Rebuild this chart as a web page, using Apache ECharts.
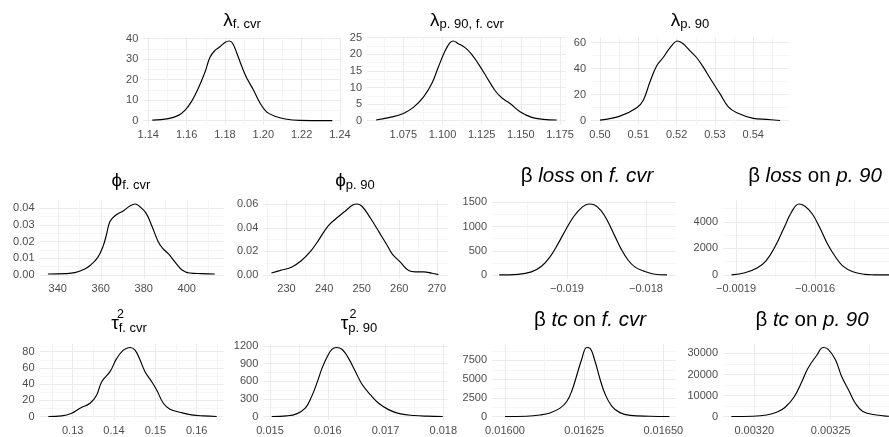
<!DOCTYPE html>
<html><head><meta charset="utf-8">
<script src="https://cdn.jsdelivr.net/npm/echarts@6/dist/echarts.min.js"></script>
<style>html,body{margin:0;padding:0;background:#fff}#c{width:889px;height:437px}</style>
</head><body><div id="c"></div>
<script>
// ---------- data (density curves) ----------
const lamFcvrX = [1.1421,1.1504,1.1557,1.1591,1.1626,1.1661,1.1696,1.1722,1.1748,1.1774,1.18,1.1823,1.184,1.1861,1.1887,1.1913,1.1948,1.1983,1.2017,1.2061,1.2122,1.2191,1.2278,1.236];
const lamFcvrY = [0.3,1.0,2.6,5.0,9.4,15.8,23.7,30.9,34.2,36.0,38.1,38.8,37.7,33.1,26.6,20.9,15.1,8.6,4.3,2.2,0.7,0.15,0.05,0.02];

const lamBothX = [1.0576,1.0665,1.075,1.0814,1.0878,1.0931,1.0973,1.1016,1.1048,1.1069,1.1101,1.1144,1.1186,1.1229,1.1282,1.1335,1.1378,1.1431,1.1495,1.157,1.1644,1.1729];
const lamBothY = [0.2,1.0,2.2,4.0,7.1,11.1,16.1,21.0,23.5,24.0,23.2,22.0,20.0,17.1,13.1,9.1,6.9,5.2,2.7,1.0,0.4,0.2];

const lamP90X = [0.5,0.5052,0.5096,0.5113,0.513,0.5148,0.5165,0.5183,0.5203,0.5217,0.5235,0.5252,0.527,0.5291,0.5313,0.5335,0.5357,0.54,0.5435,0.547];
const lamP90Y = [0.5,3.5,10,15.7,29.6,42.3,48.6,56.2,61.3,59.2,53.7,48.6,41,30.9,20.8,10.6,6.1,1.8,1.0,0.2];

const phiFcvrX = [335.4,343.5,347.9,352.3,355.3,358.6,361.0,362.6,364.2,366.6,370.6,373.7,376.0,378.2,381.1,383.9,386.7,388.8,391.5,395.0,397.8,401.3,407.0,413];
const phiFcvrY = [0.0006,0.0008,0.0014,0.0034,0.006,0.0106,0.017,0.024,0.032,0.0356,0.0386,0.0416,0.0426,0.041,0.037,0.029,0.02,0.016,0.0126,0.007,0.003,0.0012,0.0008,0.0006];

const phiP90X = [226.0,228.2,231.3,234.0,236.6,238.8,241.0,243.2,245.4,247.6,248.9,250.2,252.4,254.6,256.8,258.1,260.3,262.5,264.3,266.5,268.7,270.4];
const phiP90Y = [0.0017,0.0037,0.0066,0.0123,0.0209,0.0309,0.0414,0.048,0.0537,0.0594,0.0603,0.058,0.048,0.0366,0.0251,0.018,0.0109,0.0037,0.0026,0.0026,0.0014,0.0003];

const lossFcvrX = [-0.019858,-0.019622,-0.019451,-0.019322,-0.019215,-0.019107,-0.019021,-0.018914,-0.018807,-0.018721,-0.018657,-0.018571,-0.018485,-0.0184,-0.018313,-0.018227,-0.018142,-0.018034,-0.017906,-0.017734];
const lossFcvrY = [1,13,64,180,373,663,920,1210,1403,1467,1454,1338,1113,824,534,309,167,84,19,1];

const lossP90X = [-0.001917,-0.001866,-0.00182,-0.001786,-0.001752,-0.001718,-0.00169,-0.001661,-0.001638,-0.00161,-0.001581,-0.001553,-0.001524,-0.001496,-0.001456,-0.00141,-0.001376,-0.00133,-0.001283];
const lossP90Y = [2,165,518,1059,2118,3529,4706,5341,5176,4588,3529,2353,1412,706,235,47,10,2,0];

const tauFcvrX = [0.12411,0.12734,0.12976,0.13177,0.13419,0.13581,0.13702,0.13903,0.14065,0.14226,0.14387,0.14508,0.1463,0.1475,0.14911,0.15032,0.15194,0.15355,0.15597,0.15879,0.16161,0.16484];
const tauFcvrY = [0.1,0.8,4.1,10.3,16.4,26.7,43,55.4,71.8,82,85.3,82,69.7,55.4,43,32.8,16.4,9,5.3,2,0.8,0.1];

const tauP90X = [0.01503,0.01529,0.01546,0.01561,0.01572,0.01581,0.0159,0.01599,0.01607,0.01615,0.01625,0.01636,0.01648,0.01659,0.01674,0.01688,0.01706,0.01726,0.01749,0.01772,0.01799];
const tauP90Y = [1,11,45,141,338,563,817,1014,1138,1172,1138,986,761,552,366,225,113,45,17,6,1];

const tcFcvrX = [0.016,0.016068,0.016111,0.016142,0.016174,0.016195,0.016211,0.016226,0.016242,0.016258,0.016268,0.016284,0.0163,0.016316,0.016337,0.016363,0.016395,0.016458,0.016519];
const tcFcvrY = [5,40,200,480,1124,2006,3411,5417,7624,9229,9149,7424,5016,3010,1404,522,160,40,5];

const tcP90X = [0.003185,0.003199,0.003208,0.003215,0.00322,0.003226,0.003231,0.003235,0.003241,0.003245,0.003248,0.003253,0.003257,0.003262,0.003266,0.003271,0.00328,0.003288,0.003294];
const tcP90Y = [10,143,714,2143,4286,9286,16429,22857,29286,32857,32143,27143,19286,12143,6429,2429,714,143,10];

// ---------- tick labels (major) and minor grid positions ----------
const lamFcvrXTicks = [1.14,1.16,1.18,1.20,1.22,1.24], lamFcvrXMinor = [1.15,1.17,1.19,1.21,1.23];
const lamFcvrYTicks = [0,10,20,30,40], lamFcvrYMinor = [5,15,25,35];
const lamBothXTicks = [1.075,1.1,1.125,1.15,1.175], lamBothXMinor = [1.0625,1.0875,1.1125,1.1375,1.1625];
const lamBothYTicks = [0,5,10,15,20,25], lamBothYMinor = [2.5,7.5,12.5,17.5,22.5];
const lamP90XTicks = [0.50,0.51,0.52,0.53,0.54], lamP90XMinor = [0.505,0.515,0.525,0.535,0.545];
const lamP90YTicks = [0,20,40,60], lamP90YMinor = [10,30,50];
const phiFcvrXTicks = [340,360,380,400], phiFcvrXMinor = [350,370,390,410];
const phiFcvrYTicks = [0,0.01,0.02,0.03,0.04], phiFcvrYMinor = [0.005,0.015,0.025,0.035];
const phiP90XTicks = [230,240,250,260,270], phiP90XMinor = [225,235,245,255,265];
const phiP90YTicks = [0,0.02,0.04,0.06], phiP90YMinor = [0.01,0.03,0.05];
const lossFcvrXTicks = [-0.019,-0.018], lossFcvrXMinor = [-0.0195,-0.0185];
const lossFcvrYTicks = [0,500,1000,1500], lossFcvrYMinor = [250,750,1250];
const lossP90XTicks = [-0.0019,-0.0016], lossP90XMinor = [-0.00175,-0.00145];
const lossP90YTicks = [0,2000,4000], lossP90YMinor = [1000,3000,5000];
const tauFcvrXTicks = [0.13,0.14,0.15,0.16], tauFcvrXMinor = [0.125,0.135,0.145,0.155,0.165];
const tauFcvrYTicks = [0,20,40,60,80], tauFcvrYMinor = [10,30,50,70];
const tauP90XTicks = [0.015,0.016,0.017,0.018], tauP90XMinor = [0.0155,0.0165,0.0175];
const tauP90YTicks = [0,300,600,900,1200], tauP90YMinor = [150,450,750,1050];
const tcFcvrXTicks = [0.016,0.01625,0.0165], tcFcvrXMinor = [0.016125,0.016375];
const tcFcvrYTicks = [0,2500,5000,7500], tcFcvrYMinor = [1250,3750,6250,8750];
const tcP90XTicks = [0.0032,0.00325], tcP90XMinor = [0.003225,0.003275];
const tcP90YTicks = [0,10000,20000,30000], tcP90YMinor = [5000,15000,25000];

// ---------- panels ----------
const panels = [
  {x: lamFcvrX, y: lamFcvrY, xt: lamFcvrXTicks, xm: lamFcvrXMinor, yt: lamFcvrYTicks, ym: lamFcvrYMinor, xd: 2, yd: 0},
  {x: lamBothX, y: lamBothY, xt: lamBothXTicks, xm: lamBothXMinor, yt: lamBothYTicks, ym: lamBothYMinor, xd: 3, yd: 0},
  {x: lamP90X, y: lamP90Y, xt: lamP90XTicks, xm: lamP90XMinor, yt: lamP90YTicks, ym: lamP90YMinor, xd: 2, yd: 0},
  {x: phiFcvrX, y: phiFcvrY, xt: phiFcvrXTicks, xm: phiFcvrXMinor, yt: phiFcvrYTicks, ym: phiFcvrYMinor, xd: 0, yd: 2},
  {x: phiP90X, y: phiP90Y, xt: phiP90XTicks, xm: phiP90XMinor, yt: phiP90YTicks, ym: phiP90YMinor, xd: 0, yd: 2},
  {x: lossFcvrX, y: lossFcvrY, xt: lossFcvrXTicks, xm: lossFcvrXMinor, yt: lossFcvrYTicks, ym: lossFcvrYMinor, xd: 3, yd: 0},
  {x: lossP90X, y: lossP90Y, xt: lossP90XTicks, xm: lossP90XMinor, yt: lossP90YTicks, ym: lossP90YMinor, xd: 4, yd: 0},
  {x: tauFcvrX, y: tauFcvrY, xt: tauFcvrXTicks, xm: tauFcvrXMinor, yt: tauFcvrYTicks, ym: tauFcvrYMinor, xd: 2, yd: 0},
  {x: tauP90X, y: tauP90Y, xt: tauP90XTicks, xm: tauP90XMinor, yt: tauP90YTicks, ym: tauP90YMinor, xd: 3, yd: 0},
  {x: tcFcvrX, y: tcFcvrY, xt: tcFcvrXTicks, xm: tcFcvrXMinor, yt: tcFcvrYTicks, ym: tcFcvrYMinor, xd: 5, yd: 0},
  {x: tcP90X, y: tcP90Y, xt: tcP90XTicks, xm: tcP90XMinor, yt: tcP90YTicks, ym: tcP90YMinor, xd: 5, yd: 0}
];

// ---------- layout (pixels) and axis limits ----------
const R1 = {top: 37, height: 87.7}, R2 = {top: 200.5, height: 78}, R3 = {top: 344, height: 76};
const C = [39.5, 263.3, 492, 723], CW = 184;
const layout = [
  {left: 143.3, width: 198, row: R1, xmin: 1.1374, xmax: 1.2407},
  {left: 367, width: 198.8, row: R1, xmin: 1.0518, xmax: 1.1787},
  {left: 591, width: 198.1, row: R1, xmin: 0.49765, xmax: 0.54935},
  {left: C[0], width: CW, row: R2, xmin: 331.49, xmax: 417.07},
  {left: C[1], width: CW, row: R2, xmin: 223.83, xmax: 272.77},
  {left: C[2], width: CW, row: R2, xmin: -0.019949, xmax: -0.017620},
  {left: C[3], width: CW, row: R2, xmin: -0.0019494, xmax: -0.0012506},
  {left: C[0], width: CW, row: R3, xmin: 0.121967, xmax: 0.166487},
  {left: C[1], width: CW, row: R3, xmin: 0.014884, xmax: 0.018069},
  {left: C[2], width: CW, row: R3, xmin: 0.015959, xmax: 0.016540},
  {left: C[3], width: CW, row: R3, xmin: 0.0031795, xmax: 0.0032999}
];

const FONT = 'Liberation Sans';
const LBL = 11;
const fmt = d => v => { let s = Number(v).toFixed(d); if (s[0] === '-') s = '\u2212' + s.slice(1); return s; };

const grid = [], xAxis = [], yAxis = [], series = [];
panels.forEach((p, i) => {
  const L = layout[i];
  const M = Math.max.apply(null, p.y);
  grid.push({left: L.left, top: L.row.top, width: L.width, height: L.row.height, containLabel: false, outerBoundsMode: 'none'});
  const base = {gridIndex: i, type: 'value', axisLine: {show: false}, scale: true};
  xAxis.push(Object.assign({}, base, {
    min: L.xmin, max: L.xmax,
    axisTick: {show: false, customValues: p.xt},
    axisLabel: {customValues: p.xt, formatter: fmt(p.xd), fontSize: LBL, color: '#4D4D4D', margin: 5, fontFamily: FONT},
    splitLine: {show: true, lineStyle: {color: '#EBEBEB', width: 1}}
  }));
  xAxis.push(Object.assign({}, base, {
    min: L.xmin, max: L.xmax,
    axisTick: {show: false, customValues: p.xm},
    axisLabel: {show: false, customValues: p.xm},
    splitLine: {show: true, lineStyle: {color: '#F2F2F2', width: 0.8}}
  }));
  yAxis.push(Object.assign({}, base, {
    min: -0.05 * M, max: 1.05 * M,
    axisTick: {show: false, customValues: p.yt},
    axisLabel: {customValues: p.yt, formatter: fmt(p.yd), fontSize: LBL, color: '#4D4D4D', margin: 5, fontFamily: FONT},
    splitLine: {show: true, lineStyle: {color: '#EBEBEB', width: 1}}
  }));
  yAxis.push(Object.assign({}, base, {
    min: -0.05 * M, max: 1.05 * M,
    axisTick: {show: false, customValues: p.ym},
    axisLabel: {show: false, customValues: p.ym},
    splitLine: {show: true, lineStyle: {color: '#F2F2F2', width: 0.8}}
  }));
  series.push({
    type: 'line', xAxisIndex: 2 * i, yAxisIndex: 2 * i,
    data: p.x.map((v, k) => [v, p.y[k]]),
    smooth: 0.4, showSymbol: false, clip: true,
    lineStyle: {color: '#000', width: 1.15}
  });
});

// ---------- titles ----------
const gS = {fontSize: 19, fontFamily: FONT, fill: '#000', lineHeight: 22};
const sS = {fontSize: 13, fontFamily: FONT, fill: '#000', lineHeight: 13, verticalAlign: 'bottom'};
function sym(x, y, g, sub) {
  return {type: 'text', x: x, y: y, silent: true,
    style: {text: '{g|' + g + '}{s|' + sub + '}', align: 'center', verticalAlign: 'middle', rich: {g: gS, s: sS}}};
}
const BF = 20.5;
function beta(x, y, a, b) {
  const st = {fontSize: BF, fontFamily: FONT, fill: '#000'};
  return {type: 'text', x: x, y: y, silent: true,
    style: {text: '{b|\u03B2} {i|' + a + '} {n|on} {i|' + b + '}', align: 'center', verticalAlign: 'middle', fontSize: BF, fontFamily: FONT, fill: '#000',
      rich: {b: st, i: Object.assign({}, st, {fontStyle: 'italic'}), n: st}}};
}
function tau(x, y, sub, w) {
  return [
    {type: 'text', x: x, y: y, silent: true,
      style: {text: '{g|\u03C4}{s|' + sub + '}', align: 'center', verticalAlign: 'middle',
        rich: {g: gS, s: Object.assign({}, sS, {lineHeight: 8})}}},
    {type: 'text', x: x - w, y: y - 9.5, silent: true,
      style: {text: '2', align: 'left', verticalAlign: 'middle', fontSize: 12.5, fontFamily: FONT, fill: '#000'}}
  ];
}
const graphic = [
  sym(242, 20.3, '\u03BB', 'f. cvr'),
  sym(467, 20.3, '\u03BB', 'p. 90, f. cvr'),
  sym(690, 20.3, '\u03BB', 'p. 90'),
  sym(131, 181, '\u03D5', 'f. cvr'),
  sym(355, 181, '\u03D5', 'p. 90'),
  beta(587, 176, 'loss', 'f. cvr'),
  beta(815, 176, 'loss', 'p. 90')
].concat(tau(129, 324, 'f. cvr', 12), tau(359, 324, 'p. 90', 9.5), [
  beta(590, 320, 'tc', 'f. cvr'),
  beta(812, 320, 'tc', 'p. 90')
]);

const chart = echarts.init(document.getElementById('c'), null, {renderer: 'canvas'});
chart.setOption({
  animation: false,
  backgroundColor: '#fff',
  textStyle: {fontFamily: FONT},
  grid: grid, xAxis: xAxis, yAxis: yAxis, series: series, graphic: graphic
});
</script></body></html>
